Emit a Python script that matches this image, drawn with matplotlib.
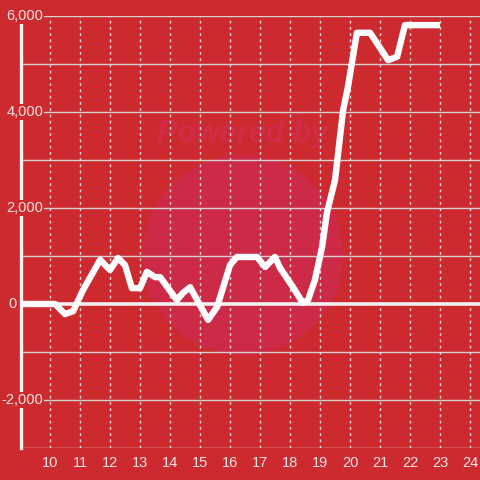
import matplotlib
matplotlib.use("Agg")
import matplotlib.pyplot as plt
from matplotlib.patches import Circle

# data
hours = [9.03, 10.17, 10.5, 10.77, 11.1, 11.67, 12.0, 12.27, 12.5, 12.73, 13.0,
         13.23, 13.5, 13.67, 14.23, 14.43, 14.67, 15.27, 15.57, 16.0, 16.23,
         16.9, 17.17, 17.5, 17.67, 18.1, 18.43, 18.6, 18.83, 19.07, 19.23,
         19.5, 19.77, 19.93, 20.23, 20.67, 21.27, 21.57, 21.83, 23.0]
values = [0, 0, -210, -150, 290, 920, 710, 960, 810, 330, 330,
          670, 560, 560, 80, 230, 350, -330, -60, 810, 980,
          980, 770, 980, 750, 350, 20, 80, 500, 1190, 1900,
          2580, 4040, 4520, 5650, 5650, 5080, 5150, 5810, 5810]
x_ticks = list(range(10, 25))
y_ticks = [6000, 4000, 2000, 0, -2000]
y_labels = ["6,000", "4,000", "2,000", "0", "-2,000"]

BG = "#cc2a2f"
FG = "#f4e4e4"

fig = plt.figure(figsize=(4.8, 4.8), dpi=100, facecolor=BG)
ax = fig.add_axes([21/480, 1 - 448/480, 1 - 21/480, (448 - 16)/480])
ax.set_facecolor(BG)
ax.set_xlim(9.033, 24.333)
ax.set_ylim(-3000, 6000)

# watermark
ax.add_patch(Circle((243/480, 1 - 255/480), 100/480, transform=fig.transFigure,
                    facecolor="#cd2a48", edgecolor="none", zorder=0.5, clip_on=False))
ax.text(243/480, 1 - 134/480, "Powered by", ha="center", va="center",
        transform=fig.transFigure, fontsize=22, fontweight="bold", style="italic",
        color="#d02c48", family="Liberation Sans", zorder=0.6)

for s in ["top", "right", "bottom"]:
    ax.spines[s].set_visible(False)
ax.spines["left"].set_color("#f2f2f2")
ax.spines["left"].set_linewidth(2.4)
ax.spines["left"].set_bounds(-3000, 5830)
ax.spines["left"].set_zorder(3)

ax.set_xticks([])
ax.set_yticks([])

for yv in range(-3000, 6001, 1000):
    if yv == 0:
        continue
    ax.axhline(yv, color="#d6d0d0", lw=1.0, zorder=1)
for xv in x_ticks:
    ax.axvline(xv, color="#e0dada", lw=1.0, ls=(0, (2, 2.5)), zorder=1)
ax.axhline(0, color="#f2f2f2", lw=2.6, zorder=2)

ax.plot(hours, values, color="white", lw=4.6, solid_joinstyle="round",
        solid_capstyle="butt", zorder=4)

for xv in x_ticks:
    ax.text(xv, -3320, str(xv), ha="center", va="center", fontsize=10.5,
            color=FG, family="Liberation Sans", clip_on=False)
for yv, lab in zip(y_ticks, y_labels):
    xpos = 9.767 if yv != 0 else 8.9
    ax.text(xpos, yv, lab, ha="right", va="center", fontsize=10.5,
            color=FG, family="Liberation Sans", clip_on=False, zorder=5,
            bbox=dict(facecolor=BG, edgecolor="none", pad=1.0))

fig.savefig("out.png", dpi=100, facecolor=BG)
